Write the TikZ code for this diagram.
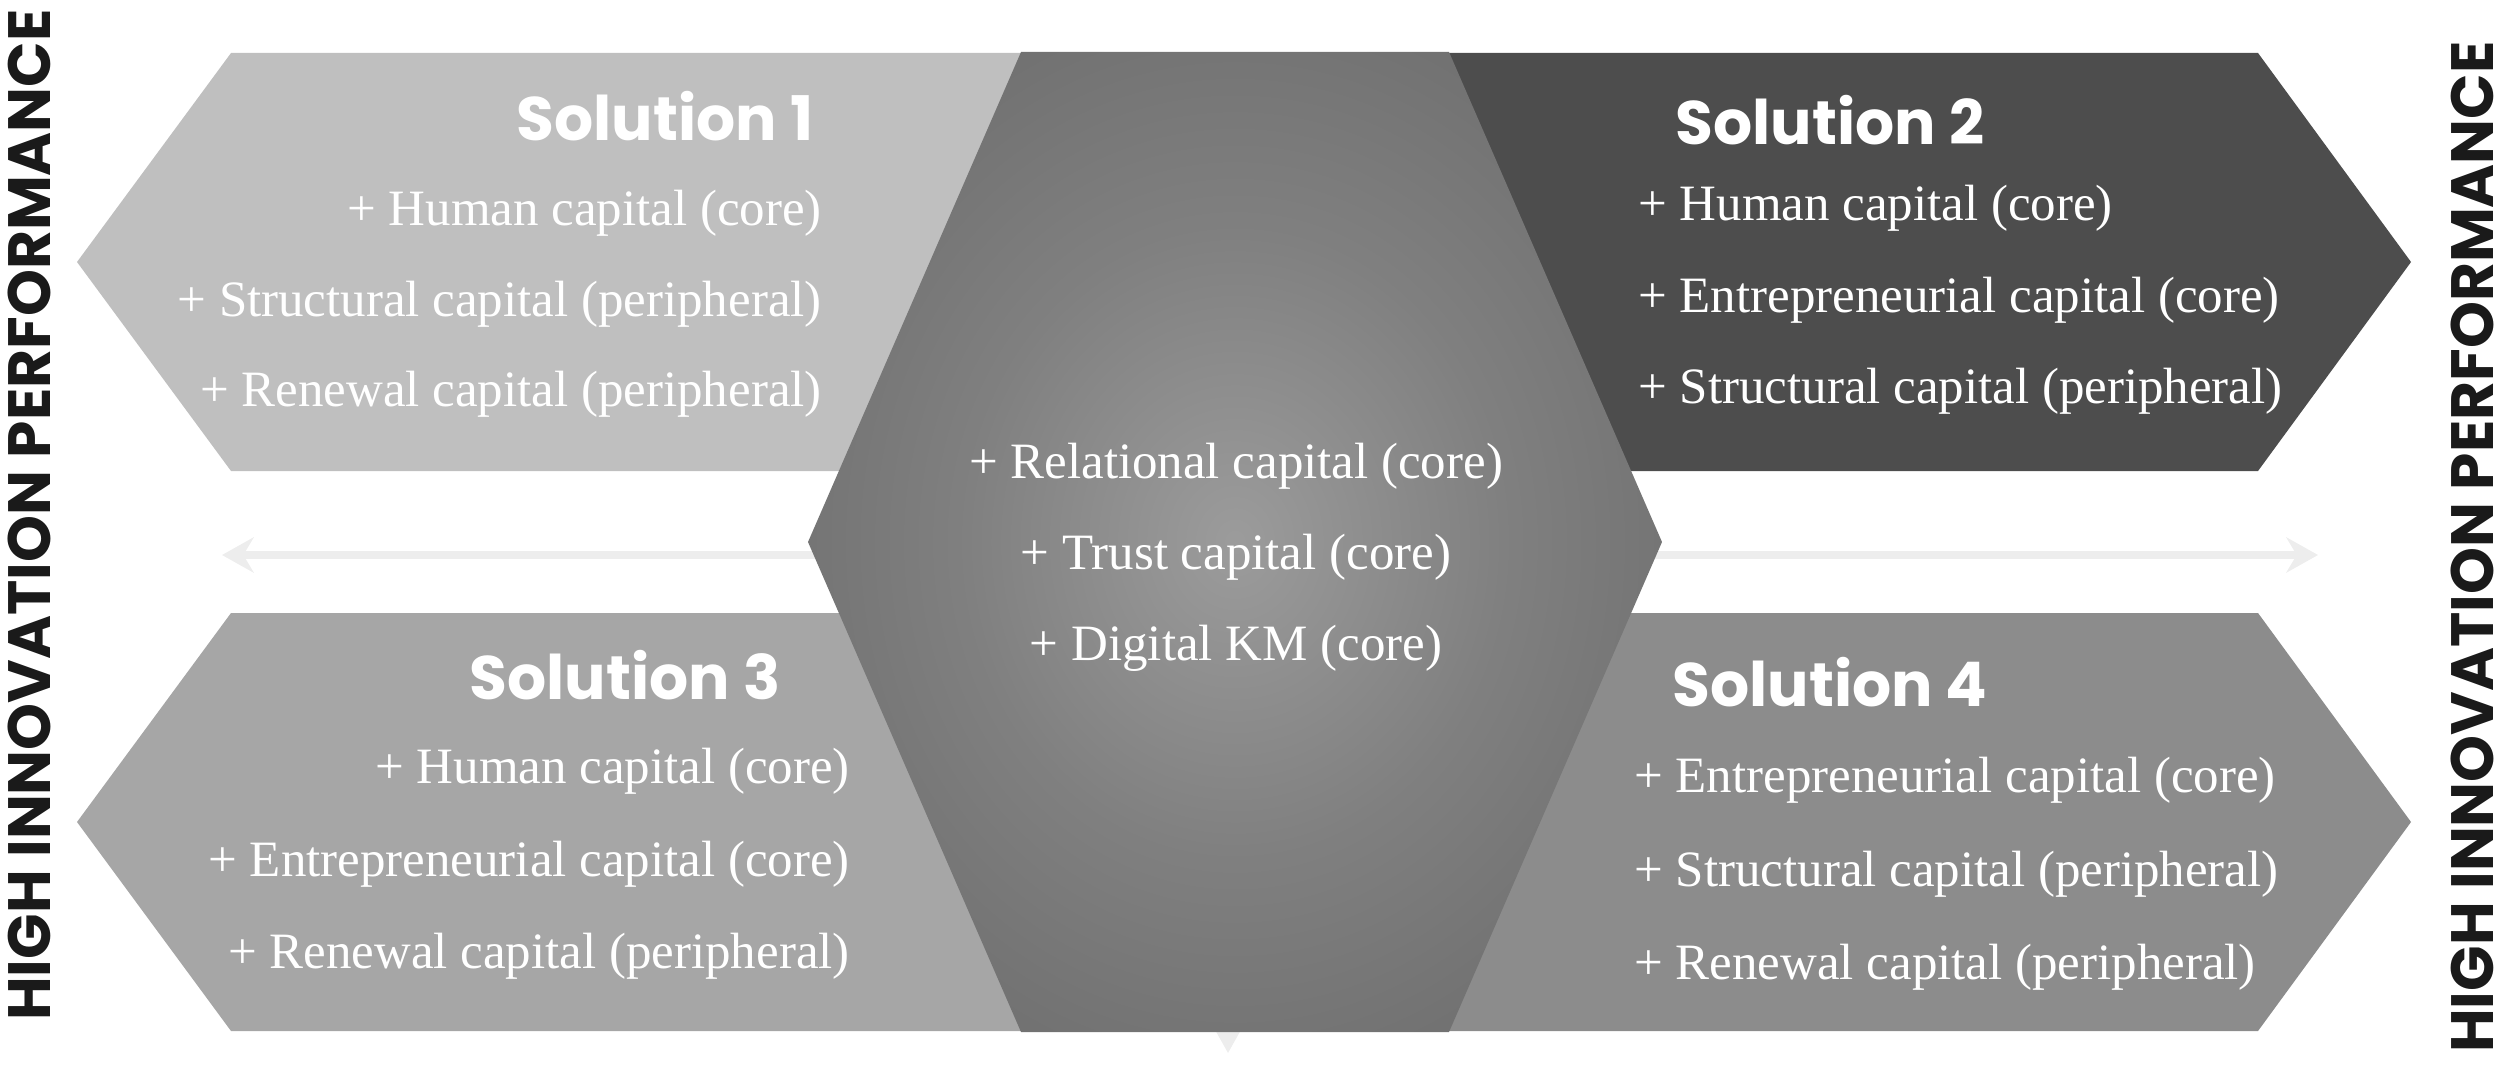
\documentclass[tikz,border=0pt]{standalone}
\usepackage{fontspec}
\setmainfont{Liberation Serif}
\newfontfamily\headfont{Poppins}
\usetikzlibrary{arrows.meta}

\definecolor{solone}{HTML}{BFBFBF}
\definecolor{soltwo}{HTML}{4D4D4D}
\definecolor{solthree}{HTML}{A6A6A6}
\definecolor{solfour}{HTML}{8C8C8C}
\definecolor{faintgray}{HTML}{EDEDED}
\definecolor{labelgray}{HTML}{1A1A1A}
\definecolor{hexin}{gray}{0.61}
\definecolor{hexmid}{gray}{0.50}
\definecolor{hexout}{gray}{0.38}
\definecolor{hexrim}{gray}{0.35}
\pgfdeclareradialshading{hexglow}{\pgfpoint{0bp}{0bp}}{color(0bp)=(hexin); color(16bp)=(hexmid); color(42bp)=(hexout); color(72bp)=(hexrim)}

\begin{document}
\begin{tikzpicture}[x=0.02cm, y=-0.02cm,
        item/.style={text=white, inner sep=0pt, font=\fontsize{29}{35}\selectfont},
        title/.style={text=white, inner sep=0pt, font=\headfont\bfseries\fontsize{35}{42}\selectfont},
        side/.style={text=labelgray, inner sep=0pt, rotate=90, font=\headfont\bfseries\fontsize{34}{41}\selectfont},
        faint/.style={draw=faintgray, line width=4pt, >={Stealth[length=18pt, width=20pt]}}]
                \useasboundingbox (0, 0) rectangle (2500, 1071);

                \coordinate (west) at (222, 555);
                \coordinate (east) at (2318, 555);
                \coordinate (hub) at (1228, 555);
                \coordinate (south) at (1228, 1053);

                \draw[faint, <->] (west) -- (east);

                \draw[faint, ->] (hub) -- (south);

                \fill[solone] (231, 53) -- (1021, 53) -- (1021, 471) -- (231, 471) -- (77, 262) -- cycle;

                \fill[soltwo] (1449, 53) -- (2258, 53) -- (2411, 262) -- (2258, 471) -- (1449, 471) -- cycle;

                \fill[solthree] (231, 613) -- (1021, 613) -- (1021, 1031) -- (231, 1031) -- (77, 822) -- cycle;

                \fill[solfour] (1449, 613) -- (2258, 613) -- (2411, 822) -- (2258, 1031) -- (1449, 1031) -- cycle;

                \shade[shading=hexglow] (1021, 52) -- (1449, 52) -- (1662, 542) -- (1449, 1032) -- (1021, 1032) -- (808, 542) -- cycle;

                \node[title, anchor=base] (sol1) at (665, 141) {Solution 1};

                \node[item, anchor=base east] (sol1a) at (822, 225) {+ Human capital (core)};

                \node[item, anchor=base east] (sol1b) at (822, 316) {+ Structural capital (peripheral)};

                \node[item, anchor=base east] (sol1c) at (822, 406) {+ Renewal capital (peripheral)};

                \node[title, anchor=base] (sol2) at (1830, 145) {Solution 2};

                \node[item, anchor=base west] (sol2a) at (1638, 220) {+ Human capital (core)};

                \node[item, anchor=base west] (sol2b) at (1638, 312) {+ Entrepreneurial capital (core)};

                \node[item, anchor=base west] (sol2c) at (1638, 403) {+ Structural capital (peripheral)};

                \node[item, anchor=base] (core1) at (1236, 478) {+ Relational capital (core)};

                \node[item, anchor=base] (core2) at (1236, 569) {+ Trust capital (core)};

                \node[item, anchor=base] (core3) at (1236, 660) {+ Digital KM (core)};

                \node[title, anchor=base] (sol3) at (625, 699) {Solution 3};

                \node[item, anchor=base east] (sol3a) at (850, 783) {+ Human capital (core)};

                \node[item, anchor=base east] (sol3b) at (850, 876) {+ Entrepreneurial capital (core)};

                \node[item, anchor=base east] (sol3c) at (850, 968) {+ Renewal capital (peripheral)};

                \node[title, anchor=base] (sol4) at (1830, 706) {Solution 4};

                \node[item, anchor=base west] (sol4a) at (1634, 792) {+ Entrepreneurial capital (core)};

                \node[item, anchor=base west] (sol4b) at (1634, 886) {+ Structural capital (peripheral)};

                \node[item, anchor=base west] (sol4c) at (1634, 979) {+ Renewal capital (peripheral)};

                \node[side] (leftlabel) at (29, 515) {HIGH INNOVATION PERFORMANCE};

                \node[side] (rightlabel) at (2472, 547) {HIGH INNOVATION PERFORMANCE};
\end{tikzpicture}
\end{document}
